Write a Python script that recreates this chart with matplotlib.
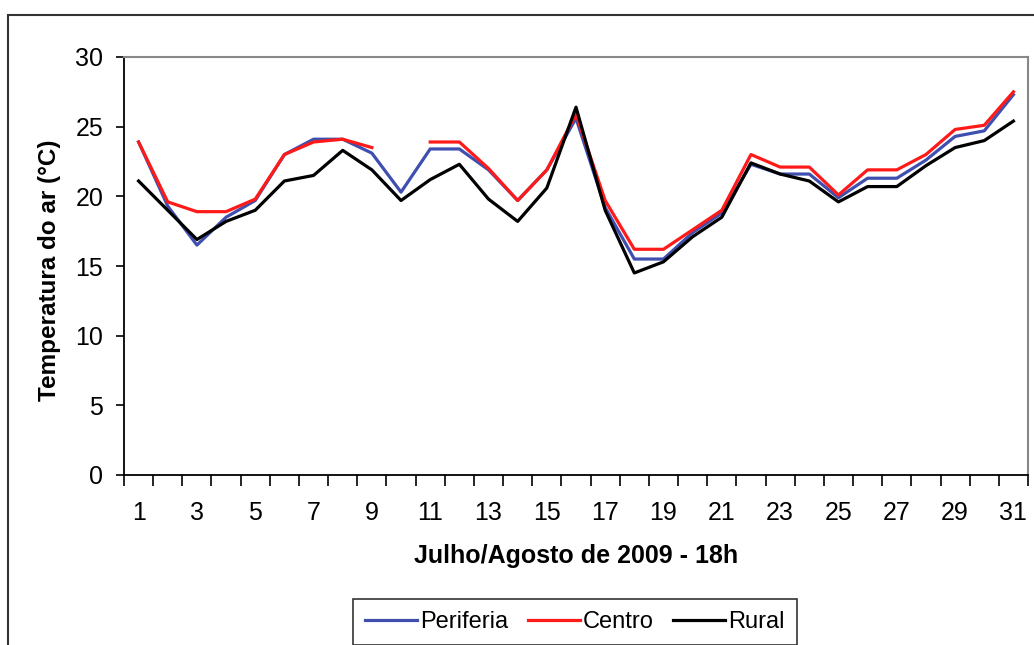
import numpy as np
import matplotlib
matplotlib.use('Agg')
import matplotlib.pyplot as plt
from matplotlib.patches import Rectangle

days = list(range(1, 32))

periferia = [23.9, 19.3, 16.5, 18.5, 19.7, 23.0, 24.1, 24.1, 23.1, 20.3,
             23.4, 23.4, 21.9, 19.7, 21.9, 25.6, 19.2, 15.5, 15.5, 17.4,
             18.8, 22.3, 21.6, 21.6, 19.9, 21.3, 21.3, 22.6, 24.3, 24.7, 27.3]
centro = [23.9, 19.6, 18.9, 18.9, 19.8, 23.0, 23.9, 24.1, 23.5, np.nan,
          23.9, 23.9, 22.0, 19.7, 21.9, 25.9, 19.7, 16.2, 16.2, 17.6,
          19.0, 23.0, 22.1, 22.1, 20.1, 21.9, 21.9, 23.0, 24.8, 25.1, 27.5]
rural = [21.1, 19.0, 16.9, 18.2, 19.0, 21.1, 21.5, 23.3, 21.9, 19.7,
         21.2, 22.3, 19.8, 18.2, 20.6, 26.4, 19.0, 14.5, 15.3, 17.1,
         18.5, 22.4, 21.6, 21.1, 19.6, 20.7, 20.7, 22.2, 23.5, 24.0, 25.4]

xlabels = [str(d) for d in days if d % 2 == 1]

plt.rcParams['font.family'] = ['Liberation Sans Narrow', 'Liberation Sans', 'DejaVu Sans']

fig = plt.figure(figsize=(10.34, 6.45), dpi=100)
ax = fig.add_axes([124/1034, 170/645, 904/1034, 418/645])

ax.plot(days, periferia, color='#3f4fb0', lw=2.3, label='Periferia')
ax.plot(days, centro, color='#ff1a1a', lw=2.3, label='Centro')
ax.plot(days, rural, color='black', lw=2.3, label='Rural')

ax.set_xlim(0.5, 31.5)
ax.set_ylim(0, 30)
ax.set_yticks(range(0, 31, 5))

# Excel-style: tick marks between categories, labels on odd days
ax.set_xticks(np.arange(0.5, 32, 1))
ax.set_xticklabels([])
ax.set_xticks([d for d in days if d % 2 == 1], minor=True)
ax.set_xticklabels(xlabels, minor=True)
ax.tick_params(axis='x', which='major', length=8, width=1.2, direction='out')
ax.tick_params(axis='x', which='minor', length=0, pad=19, labelsize=18)
ax.tick_params(axis='y', length=6, width=1.2, pad=9, labelsize=18)

for s in ['top', 'right']:
    ax.spines[s].set_color('#888888')
    ax.spines[s].set_linewidth(1.5)
for s in ['left', 'bottom']:
    ax.spines[s].set_linewidth(1.3)

fig.text(576/1034, 1 - 556/645, 'Julho/Agosto de 2009 - 18h', ha='center', va='center',
         fontsize=18, fontweight='bold')
fig.text(50/1034, 1 - 270/645, 'Temperatura do ar (°C)', ha='center', va='center',
         rotation=90, fontsize=17.5, fontweight='bold')

leg = fig.legend(loc='upper center', bbox_to_anchor=(575/1034, 1 - 599/645), ncol=3,
                 fontsize=17, frameon=True, fancybox=False, handlelength=2.2,
                 handletextpad=0.15, columnspacing=0.8, borderpad=0.5,
                 borderaxespad=0)
leg.get_frame().set_edgecolor('black')
leg.get_frame().set_linewidth(1.2)

fig.patches.append(Rectangle((8/1034, -0.2), 1.2, (645 - 15)/645 + 0.2,
                             transform=fig.transFigure, fill=False,
                             edgecolor='#333333', lw=1.5))

fig.savefig('out.png', dpi=100)
